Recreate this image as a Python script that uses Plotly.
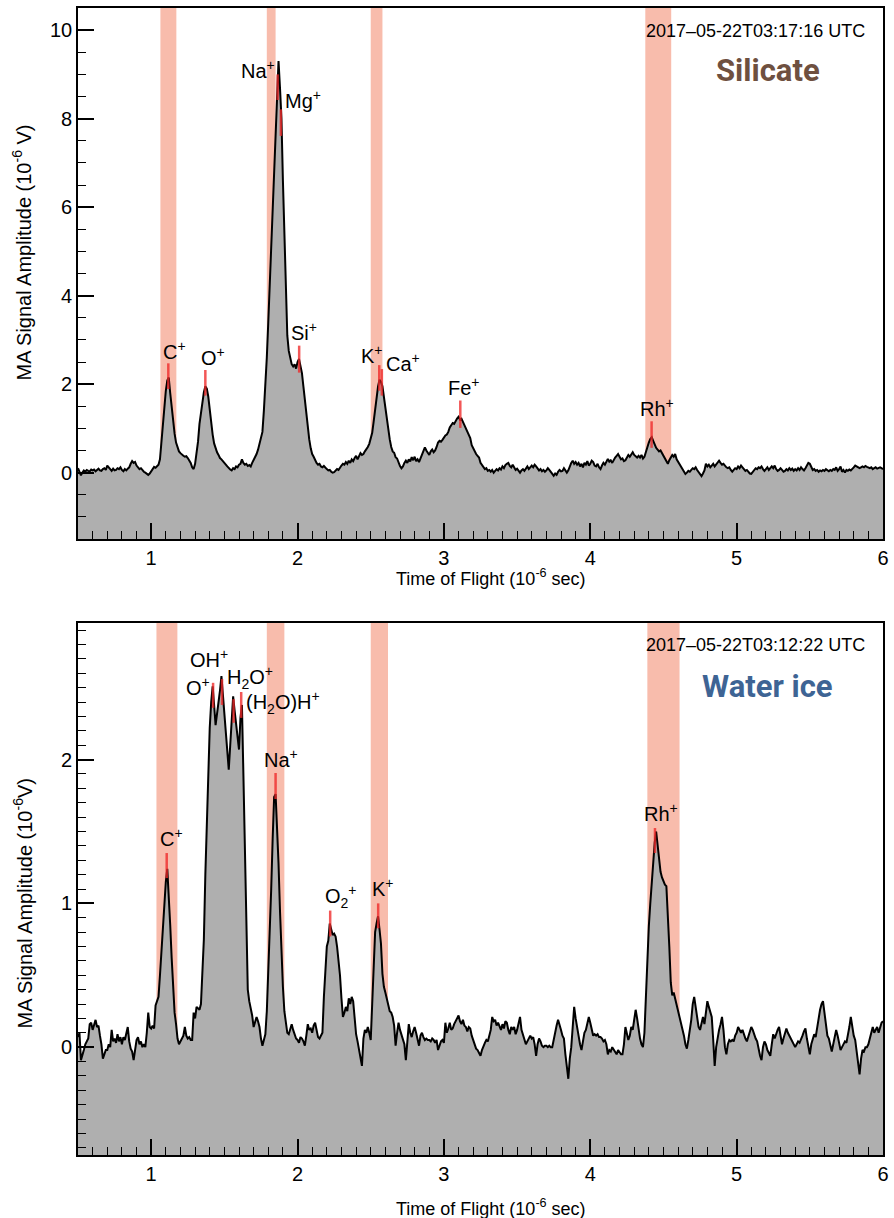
import numpy as np
import plotly.graph_objects as go
from plotly.subplots import make_subplots

# ---------------- data ----------------
TOF_START = 0.50   # 10^-6 s
TOF_STEP = 0.01

# Silicate spectrum (2017-05-22T03:17:16 UTC), amplitude in 10^-6 V
AMP_SILICATE = [
    0.10, 0.02, -0.06, 0.00, 0.05, 0.02, 0.06, 0.04, 0.03, 0.07,   # 0.50
    0.05, 0.07, 0.03, 0.06, 0.09, 0.05, 0.04, 0.08, 0.10, 0.06,    # 0.60
    0.16, 0.12, 0.07, 0.04, 0.09, 0.05, 0.06, 0.10, 0.08, 0.12,    # 0.70
    0.06, 0.03, 0.08, 0.05, 0.09, 0.12, 0.20, 0.26, 0.22, 0.24,    # 0.80
    0.16, 0.12, 0.08, 0.10, 0.05, 0.02, 0.00, -0.03, -0.05, -0.02, # 0.90
    0.04, 0.10, 0.13, 0.11, 0.14, 0.18, 0.30, 0.70, 1.20, 1.55,    # 1.00
    1.85, 2.08, 2.15, 1.80, 1.45, 1.15, 0.88, 0.68, 0.55, 0.48,    # 1.10
    0.44, 0.40, 0.38, 0.36, 0.37, 0.33, 0.28, 0.22, 0.12, 0.08,    # 1.20
    0.20, 0.42, 0.70, 1.10, 1.38, 1.62, 1.82, 1.95, 1.90, 1.72,    # 1.30
    1.38, 1.08, 0.86, 0.66, 0.55, 0.46, 0.40, 0.33, 0.30, 0.25,    # 1.40
    0.22, 0.18, 0.14, 0.10, 0.07, 0.05, 0.10, 0.08, 0.14, 0.12,    # 1.50
    0.18, 0.20, 0.30, 0.22, 0.18, 0.20, 0.15, 0.17, 0.14, 0.22,    # 1.60
    0.28, 0.35, 0.42, 0.52, 0.65, 0.75, 0.92, 1.40, 1.90, 2.60,    # 1.70
    3.40, 4.20, 5.00, 5.80, 6.60, 7.50, 8.50, 9.30, 8.70, 8.00,    # 1.80
    6.60, 5.20, 3.90, 3.10, 2.75, 2.55, 2.45, 2.40, 2.45, 2.35,    # 1.90
    2.50, 2.57, 2.40, 2.25, 1.95, 1.65, 1.30, 0.98, 0.75, 0.55,    # 2.00
    0.42, 0.36, 0.28, 0.22, 0.18, 0.20, 0.14, 0.12, 0.15, 0.10,    # 2.10
    0.08, 0.05, 0.06, 0.02, 0.00, 0.01, 0.04, 0.08, 0.06, 0.12,    # 2.20
    0.16, 0.20, 0.18, 0.24, 0.20, 0.27, 0.22, 0.30, 0.26, 0.33,    # 2.30
    0.38, 0.30, 0.36, 0.44, 0.40, 0.42, 0.48, 0.52, 0.58, 0.65,    # 2.40
    0.75, 0.90, 1.15, 1.45, 1.75, 1.95, 2.10, 2.05, 1.95, 1.70,    # 2.50
    1.40, 1.15, 0.92, 0.75, 0.58, 0.48, 0.45, 0.35, 0.32, 0.22,    # 2.60
    0.15, 0.10, 0.14, 0.22, 0.27, 0.22, 0.30, 0.25, 0.35, 0.28,    # 2.70
    0.36, 0.26, 0.30, 0.24, 0.32, 0.40, 0.48, 0.57, 0.50, 0.44,    # 2.80
    0.40, 0.48, 0.52, 0.46, 0.50, 0.58, 0.68, 0.72, 0.70, 0.74,    # 2.90
    0.80, 0.84, 0.86, 0.92, 1.02, 1.08, 1.12, 1.10, 1.18, 1.22,    # 3.00
    1.26, 1.20, 1.22, 1.14, 1.10, 1.00, 0.92, 0.84, 0.78, 0.62,    # 3.10
    0.55, 0.48, 0.42, 0.38, 0.34, 0.22, 0.18, 0.12, 0.08, 0.10,    # 3.20
    0.04, 0.06, 0.02, 0.06, 0.00, 0.04, 0.08, 0.05, 0.10, 0.07,    # 3.30
    0.14, 0.10, 0.17, 0.20, 0.22, 0.15, 0.12, 0.18, 0.10, 0.06,    # 3.40
    0.09, 0.03, 0.00, 0.05, 0.08, 0.04, 0.10, 0.14, 0.08, 0.12,    # 3.50
    0.16, 0.12, 0.18, 0.14, 0.10, 0.05, 0.08, 0.03, 0.06, 0.02,    # 3.60
    0.05, 0.10, 0.06, 0.02, -0.04, -0.07, -0.02, -0.05, 0.02, 0.06, # 3.70
    0.03, 0.04, 0.10, 0.06, 0.00, 0.05, 0.16, 0.22, 0.27, 0.20,    # 3.80
    0.24, 0.18, 0.22, 0.14, 0.20, 0.12, 0.22, 0.18, 0.26, 0.16,    # 3.90
    0.20, 0.27, 0.24, 0.16, 0.14, 0.20, 0.12, 0.08, 0.16, 0.22,    # 4.00
    0.18, 0.24, 0.31, 0.25, 0.28, 0.22, 0.30, 0.34, 0.38, 0.42,    # 4.10
    0.36, 0.30, 0.32, 0.26, 0.28, 0.34, 0.40, 0.36, 0.42, 0.46,    # 4.20
    0.40, 0.36, 0.34, 0.38, 0.34, 0.40, 0.32, 0.36, 0.48, 0.58,    # 4.30
    0.68, 0.76, 0.80, 0.72, 0.62, 0.56, 0.52, 0.48, 0.50, 0.44,    # 4.40
    0.40, 0.32, 0.26, 0.20, 0.28, 0.34, 0.40, 0.36, 0.42, 0.30,    # 4.50
    0.24, 0.20, 0.14, 0.06, 0.02, -0.03, 0.00, 0.04, 0.02, 0.06,   # 4.60
    0.10, 0.08, 0.12, 0.06, 0.02, -0.04, -0.08, -0.02, 0.05, 0.20, # 4.70
    0.14, 0.18, 0.12, 0.16, 0.20, 0.14, 0.18, 0.22, 0.27, 0.22,    # 4.80
    0.18, 0.20, 0.15, 0.12, 0.10, 0.12, 0.06, 0.02, 0.06, 0.10,    # 4.90
    0.08, 0.14, 0.10, 0.16, 0.12, 0.08, 0.04, 0.06, 0.02, -0.02,   # 5.00
    -0.03, 0.02, 0.06, 0.10, 0.08, 0.12, 0.10, 0.14, 0.08, 0.04,   # 5.10
    0.08, 0.12, 0.06, 0.10, 0.14, 0.10, 0.16, 0.08, 0.04, 0.06,    # 5.20
    0.10, 0.06, 0.02, 0.04, 0.08, 0.05, 0.10, 0.06, 0.09, 0.04,    # 5.30
    0.08, 0.05, 0.10, 0.06, 0.12, 0.08, 0.05, 0.10, 0.16, 0.22,    # 5.40
    0.20, 0.12, 0.06, 0.08, 0.04, 0.06, 0.02, 0.05, 0.03, 0.06,    # 5.50
    0.04, 0.08, 0.05, 0.03, 0.06, 0.04, 0.08, 0.06, 0.12, 0.04,    # 5.60
    0.08, 0.14, 0.02, 0.06, 0.00, 0.06, 0.04, 0.07, 0.05, 0.10,    # 5.70
    0.12, 0.16, 0.14, 0.12, 0.10, 0.12, 0.14, 0.12, 0.15, 0.13,    # 5.80
    0.12, 0.10, 0.12, 0.08, 0.10, 0.12, 0.09, 0.10, 0.12, 0.10,    # 5.90
    0.08,                                                          # 6.00
]

# Water-ice spectrum (2017-05-22T03:12:22 UTC), amplitude in 10^-6 V
AMP_WATER = [
    0.07, 0.10, -0.09, -0.06, -0.02, 0.02, 0.04, 0.06, 0.16, 0.17,  # 0.50
    0.12, 0.16, 0.19, 0.14, 0.15, 0.08, 0.02, -0.08, -0.04, -0.02,  # 0.60
    -0.02, 0.02, 0.00, 0.12, 0.04, 0.06, 0.03, 0.09, 0.04, 0.07,    # 0.70
    0.02, 0.07, 0.05, 0.09, 0.14, 0.04, -0.01, -0.03, -0.09, -0.02, # 0.80
    0.05, 0.07, 0.02, 0.04, 0.00, 0.02, 0.00, 0.10, 0.24, 0.14,     # 0.90
    0.13, 0.15, 0.13, 0.29, 0.32, 0.35, 0.50, 0.68, 0.80, 0.96,     # 1.00
    1.15, 1.24, 1.08, 0.85, 0.62, 0.42, 0.24, 0.16, 0.06, 0.02,     # 1.10
    0.04, 0.07, 0.08, 0.14, 0.08, 0.06, 0.07, 0.05, 0.05, 0.24,     # 1.20
    0.20, 0.28, 0.27, 0.26, 0.30, 0.50, 0.75, 1.20, 1.60, 1.95,     # 1.30
    2.22, 2.40, 2.51, 2.38, 2.24, 2.32, 2.39, 2.48, 2.58, 2.45,     # 1.40
    2.32, 2.16, 2.02, 1.93, 2.10, 2.30, 2.44, 2.34, 2.24, 2.15,     # 1.50
    2.07, 2.29, 2.38, 1.90, 1.35, 0.85, 0.40, 0.32, 0.28, 0.22,     # 1.60
    0.14, 0.18, 0.21, 0.18, 0.14, 0.06, 0.01, 0.05, 0.09, 0.25,     # 1.70
    0.51, 0.80, 1.10, 1.45, 1.74, 1.76, 1.55, 1.28, 0.95, 0.63,     # 1.80
    0.42, 0.25, 0.16, 0.10, 0.09, 0.12, 0.16, 0.12, 0.09, 0.06,     # 1.90
    0.05, 0.03, 0.07, 0.06, 0.04, 0.01, 0.08, 0.16, 0.12, 0.13,     # 2.00
    0.10, 0.15, 0.17, 0.12, 0.07, 0.06, 0.08, 0.10, 0.35, 0.51,     # 2.10
    0.70, 0.74, 0.86, 0.82, 0.78, 0.79, 0.77, 0.70, 0.62, 0.50,     # 2.20
    0.34, 0.21, 0.24, 0.28, 0.25, 0.34, 0.30, 0.35, 0.32, 0.20,     # 2.30
    0.09, 0.04, -0.02, -0.08, -0.13, 0.06, 0.12, 0.10, 0.14, 0.10,  # 2.40
    0.05, 0.30, 0.62, 0.80, 0.86, 0.91, 0.82, 0.72, 0.51, 0.42,     # 2.50
    0.38, 0.33, 0.30, 0.25, 0.24, 0.21, 0.15, 0.01, 0.10, 0.17,     # 2.60
    0.12, 0.08, 0.06, 0.02, -0.09, 0.05, 0.16, 0.10, 0.07, 0.11,    # 2.70
    0.14, 0.10, 0.06, 0.01, 0.08, 0.10, 0.07, 0.05, 0.06, 0.05,     # 2.80
    0.05, 0.04, 0.06, 0.05, 0.03, 0.05, -0.02, 0.01, 0.04, 0.05,    # 2.90
    0.03, 0.17, 0.10, 0.13, 0.17, 0.12, 0.13, 0.16, 0.18, 0.20,     # 3.00
    0.22, 0.18, 0.16, 0.19, 0.15, 0.14, 0.11, 0.14, 0.13, 0.08,     # 3.10
    0.05, 0.02, -0.01, -0.02, -0.04, -0.06, -0.02, 0.01, 0.03, 0.05, # 3.20
    0.04, 0.08, 0.12, 0.21, 0.18, 0.19, 0.15, 0.17, 0.14, 0.12,     # 3.30
    0.16, 0.13, 0.18, 0.17, 0.12, 0.09, 0.14, 0.12, 0.14, 0.09,     # 3.40
    0.12, 0.16, 0.21, 0.12, 0.08, 0.04, 0.02, 0.04, 0.06, 0.08,     # 3.50
    0.06, 0.07, 0.02, -0.06, 0.02, 0.06, 0.04, 0.01, 0.00, 0.01,    # 3.60
    0.01, 0.00, 0.01, 0.00, 0.00, 0.06, 0.11, 0.15, 0.19, 0.16,     # 3.70
    0.12, 0.08, 0.06, -0.05, -0.15, -0.22, -0.08, 0.00, 0.14, 0.28, # 3.80
    0.20, 0.12, 0.08, 0.02, -0.02, 0.04, 0.10, 0.12, 0.16, 0.21,    # 3.90
    0.17, 0.11, 0.08, 0.09, 0.08, 0.09, 0.07, 0.07, 0.06, 0.04,     # 4.00
    0.05, 0.02, -0.05, -0.02, -0.03, 0.00, -0.02, -0.04, -0.05, -0.02, # 4.10
    -0.04, -0.05, -0.05, 0.02, 0.14, 0.10, 0.05, 0.08, 0.14, 0.12,  # 4.20
    0.20, 0.26, 0.20, 0.12, 0.06, 0.02, 0.00, 0.10, 0.37, 0.60,     # 4.30
    0.84, 1.00, 1.15, 1.30, 1.42, 1.50, 1.40, 1.28, 1.22, 1.18,     # 4.40
    1.15, 1.13, 1.12, 0.95, 0.70, 0.45, 0.36, 0.38, 0.34, 0.30,     # 4.50
    0.25, 0.22, 0.18, 0.14, 0.08, 0.02, -0.01, 0.05, 0.12, 0.19,    # 4.60
    0.30, 0.35, 0.28, 0.21, 0.14, 0.12, 0.16, 0.21, 0.16, 0.25,     # 4.70
    0.32, 0.28, 0.24, 0.21, 0.05, -0.13, 0.00, 0.08, 0.12, 0.16,    # 4.80
    0.21, 0.12, 0.00, -0.05, 0.02, 0.05, 0.04, 0.05, 0.04, 0.08,    # 4.90
    0.10, 0.14, 0.12, 0.10, 0.12, 0.08, 0.06, 0.04, 0.08, 0.10,     # 5.00
    0.14, 0.12, 0.08, 0.06, 0.04, -0.02, -0.06, -0.09, 0.00, 0.04,  # 5.10
    0.02, -0.02, -0.04, -0.06, 0.02, 0.09, 0.06, 0.10, 0.12, 0.14,  # 5.20
    0.06, 0.02, 0.06, 0.10, 0.13, 0.10, 0.08, 0.05, 0.04, 0.02,     # 5.30
    0.00, 0.02, 0.04, 0.03, 0.05, 0.08, 0.11, 0.13, 0.06, 0.00,     # 5.40
    -0.05, 0.02, 0.06, 0.09, 0.07, 0.14, 0.21, 0.26, 0.30, 0.32,    # 5.50
    0.24, 0.14, 0.08, 0.06, 0.02, -0.03, 0.02, 0.06, 0.12, 0.08,    # 5.60
    0.04, -0.02, 0.00, 0.02, 0.04, 0.03, 0.08, 0.14, 0.21, 0.14,    # 5.70
    0.08, 0.05, -0.04, -0.12, -0.19, -0.08, -0.02, -0.03, 0.00, 0.00, # 5.80
    0.02, 0.06, 0.10, 0.14, 0.10, 0.12, 0.14, 0.10, 0.14, 0.17,     # 5.90
    0.18,                                                           # 6.00
]

# Mass windows (shaded bands), TOF start / end
BAND_SIL_START = [1.063, 1.790, 2.500, 4.376]
BAND_SIL_END = [1.172, 1.850, 2.580, 4.553]
BAND_WAT_START = [1.036, 1.790, 2.500, 4.390]
BAND_WAT_END = [1.179, 1.910, 2.618, 4.610]

# Ion identifications: name, TOF, red marker extent, label position
ION_SIL = ["C<sup>+</sup>", "O<sup>+</sup>", "Na<sup>+</sup>", "Mg<sup>+</sup>", "Si<sup>+</sup>",
           "K<sup>+</sup>", "Ca<sup>+</sup>", "Fe<sup>+</sup>", "Rh<sup>+</sup>"]
ION_SIL_TOF = [1.117, 1.370, 1.864, 1.886, 2.011, 2.558, 2.576, 3.112, 4.419]
ION_SIL_LO = [1.89, 1.74, 8.42, 7.61, 2.26, 1.85, 1.74, 1.01, 0.56]
ION_SIL_HI = [2.47, 2.32, 9.00, 8.21, 2.87, 2.43, 2.34, 1.63, 1.16]
ION_SIL_LX = [1.161, 1.419, 1.728, 2.040, 2.047, 2.508, 2.720, 3.140, 4.455]
ION_SIL_LY = [2.77, 2.63, 9.11, 8.44, 3.18, 2.66, 2.50, 1.94, 1.47]

ION_WAT = ["C<sup>+</sup>", "O<sup>+</sup>", "OH<sup>+</sup>", "H<sub>2</sub>O<sup>+</sup>",
           "(H<sub>2</sub>O)H<sup>+</sup>", "Na<sup>+</sup>", "O<sub>2</sub><sup>+</sup>",
           "K<sup>+</sup>", "Rh<sup>+</sup>"]
ION_WAT_TOF = [1.106, 1.423, 1.484, 1.563, 1.615, 1.850, 2.223, 2.551, 4.442]
ION_WAT_LO = [1.176, 2.360, 2.380, 2.256, 2.290, 1.726, 0.770, 0.827, 1.350]
ION_WAT_HI = [1.350, 2.534, 2.560, 2.420, 2.470, 1.907, 0.950, 1.000, 1.524]
ION_WAT_LX = [1.140, 1.320, 1.393, 1.676, 1.902, 1.889, 2.296, 2.586, 4.480]
ION_WAT_LY = [1.456, 2.505, 2.700, 2.570, 2.400, 2.010, 1.050, 1.108, 1.630]

X_RANGE = [0.5, 6.0]
Y_RANGE_SIL = [-1.5, 10.5]
Y_RANGE_WAT = [-0.75, 2.95]

# ---------------- styling ----------------
FONT = "Liberation Sans, Arial, Helvetica, sans-serif"
TITLE_FONT = "Roboto, Liberation Sans, sans-serif"
BAND_COLOR = "#F8BCAC"
FILL_COLOR = "#AFAFAF"
MARK_COLOR = "rgba(238,40,40,0.78)"

W, H = 894, 1218
ML, MR, MT, MB = 78, 5, 8, 63
PW = W - ML - MR
PH = H - MT - MB


def px_x(px):
    return (px - ML) / PW


def px_y(py):
    return (H - MB - py) / PH


fig = make_subplots(rows=2, cols=1)

panels = [
    dict(amp=AMP_SILICATE, yr=Y_RANGE_SIL, bs=BAND_SIL_START, be=BAND_SIL_END,
         ions=ION_SIL, tof=ION_SIL_TOF, lo=ION_SIL_LO, hi=ION_SIL_HI,
         lx=ION_SIL_LX, ly=ION_SIL_LY, row=1),
    dict(amp=AMP_WATER, yr=Y_RANGE_WAT, bs=BAND_WAT_START, be=BAND_WAT_END,
         ions=ION_WAT, tof=ION_WAT_TOF, lo=ION_WAT_LO, hi=ION_WAT_HI,
         lx=ION_WAT_LX, ly=ION_WAT_LY, row=2),
]

shapes = []
annotations = []
for p in panels:
    r = p["row"]
    xa = "x" if r == 1 else "x2"
    ya = "y" if r == 1 else "y2"
    tof = np.round(TOF_START + TOF_STEP * np.arange(len(p["amp"])), 3)
    # invisible floor for filling down to the bottom of the axis
    fig.add_trace(go.Scatter(x=X_RANGE, y=[p["yr"][0], p["yr"][0]], mode="lines",
                             line=dict(width=0, color="rgba(0,0,0,0)"),
                             showlegend=False, hoverinfo="skip"), row=r, col=1)
    fig.add_trace(go.Scatter(x=tof, y=p["amp"], mode="lines",
                             line=dict(color="black", width=2),
                             fill="tonexty", fillcolor=FILL_COLOR,
                             showlegend=False), row=r, col=1)
    for s, e in zip(p["bs"], p["be"]):
        shapes.append(dict(type="rect", xref=xa, yref=ya + " domain", x0=s, x1=e,
                           y0=0, y1=1, fillcolor=BAND_COLOR, line=dict(width=0),
                           layer="below"))
    for name, t, lo, hi, lx, ly in zip(p["ions"], p["tof"], p["lo"], p["hi"], p["lx"], p["ly"]):
        shapes.append(dict(type="line", xref=xa, yref=ya, x0=t, x1=t, y0=lo, y1=hi,
                           line=dict(color=MARK_COLOR, width=2.5), layer="above"))
        annotations.append(dict(x=lx, y=ly, xref=xa, yref=ya, text=name, showarrow=False,
                                xanchor="center", yanchor="middle",
                                font=dict(family=FONT, size=20, color="black")))

# timestamps and sample labels
annotations += [
    dict(x=px_x(873), y=px_y(31), xref="paper", yref="paper", xanchor="right", yanchor="middle",
         text="2017\u201305-22T03:17:16 UTC", showarrow=False,
         font=dict(family=FONT, size=18, color="black")),
    dict(x=px_x(873), y=px_y(645), xref="paper", yref="paper", xanchor="right", yanchor="middle",
         text="2017\u201305-22T03:12:22 UTC", showarrow=False,
         font=dict(family=FONT, size=18, color="black")),
    dict(x=px_x(773), y=px_y(70), xref="paper", yref="paper", xanchor="center", yanchor="middle",
         text="<b>Silicate</b>", showarrow=False,
         font=dict(family=TITLE_FONT, size=31, color="#6E5040")),
    dict(x=px_x(773), y=px_y(686), xref="paper", yref="paper", xanchor="center", yanchor="middle",
         text="<b>Water ice</b>", showarrow=False,
         font=dict(family=TITLE_FONT, size=31, color="#3E6494")),
    # axis titles
    dict(x=px_x(22), y=px_y(252), xref="paper", yref="paper", xanchor="center", yanchor="middle",
         textangle=-90, text="MA Signal Amplitude (10<sup>-6</sup> V)", showarrow=False,
         font=dict(family=FONT, size=20, color="black")),
    dict(x=px_x(22), y=px_y(903), xref="paper", yref="paper", xanchor="center", yanchor="middle",
         textangle=-90, text="MA Signal Amplitude (10<sup>-6</sup>V)", showarrow=False,
         font=dict(family=FONT, size=20, color="black")),
    dict(x=px_x(494), y=px_y(577), xref="paper", yref="paper", xanchor="center", yanchor="middle",
         text="Time of Flight (10<sup>-6</sup> sec)", showarrow=False,
         font=dict(family=FONT, size=18, color="black")),
    dict(x=px_x(494), y=px_y(1207), xref="paper", yref="paper", xanchor="center", yanchor="middle",
         text="Time of Flight (10<sup>-6</sup> sec)", showarrow=False,
         font=dict(family=FONT, size=18, color="black")),
]

axis_common = dict(showline=True, linecolor="black", linewidth=1.6, mirror=True,
                   ticks="inside", tickcolor="black", tickwidth=1.5, ticklen=16,
                   showgrid=False, zeroline=False,
                   tickfont=dict(family=FONT, size=20, color="black"))

top_dom = [px_y(539), 1.0]
bot_dom = [0.0, px_y(623)]

fig.update_layout(
    width=W, height=H,
    margin=dict(l=ML, r=MR, t=MT, b=MB),
    paper_bgcolor="white", plot_bgcolor="white",
    showlegend=False,
    shapes=shapes, annotations=annotations,
    xaxis=dict(range=X_RANGE, dtick=1, tick0=0, domain=[0, 1], anchor="y",
               minor=dict(dtick=0.1, tick0=0, ticks="inside", ticklen=8, tickwidth=1.2,
                          tickcolor="black"), **axis_common),
    yaxis=dict(range=Y_RANGE_SIL, dtick=2, tick0=0, domain=top_dom, anchor="x",
               minor=dict(dtick=0.5, tick0=0, ticks="inside", ticklen=8, tickwidth=1.2,
                          tickcolor="black"), **axis_common),
    xaxis2=dict(range=X_RANGE, dtick=1, tick0=0, domain=[0, 1], anchor="y2",
                minor=dict(dtick=0.1, tick0=0, ticks="inside", ticklen=8, tickwidth=1.2,
                           tickcolor="black"), **axis_common),
    yaxis2=dict(range=Y_RANGE_WAT, dtick=1, tick0=0, domain=bot_dom, anchor="x2",
                minor=dict(dtick=0.1, tick0=0, ticks="inside", ticklen=8, tickwidth=1.2,
                           tickcolor="black"), **axis_common),
)

fig.write_html("out.html")
